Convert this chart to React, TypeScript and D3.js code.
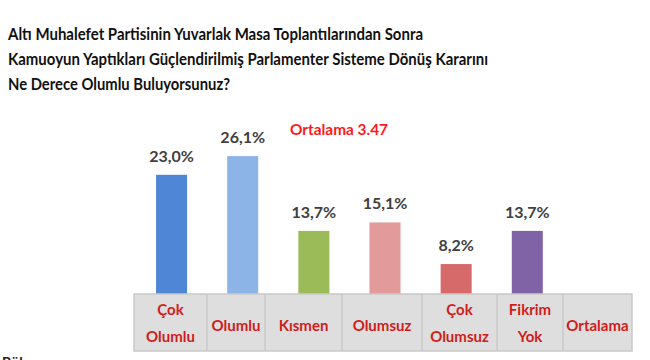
import React from "react";
import * as d3 from "d3";

const categories = ["Çok Olumlu", "Olumlu", "Kısmen", "Olumsuz", "Çok Olumsuz", "Fikrim Yok", "Ortalama"];
const tableLabels: string[][] = [["Çok", "Olumlu"], ["Olumlu"], ["Kısmen"], ["Olumsuz"], ["Çok", "Olumsuz"], ["Fikrim", "Yok"], ["Ortalama"]];
const values: (number | null)[] = [23.0, 26.1, 13.7, 15.1, 8.2, 13.7, null];
const valueLabels = ["23,0%", "26,1%", "13,7%", "15,1%", "8,2%", "13,7%", ""];
const barColors = ["#4f86d6", "#8db4e6", "#9bbb59", "#e29a9b", "#d66a6a", "#8063a6", "#ffffff"];
const titleLines = [
  "Altı Muhalefet Partisinin Yuvarlak Masa Toplantılarından Sonra",
  "Kamuoyun Yaptıkları Güçlendirilmiş Parlamenter Sisteme Dönüş Kararını",
  "Ne Derece Olumlu Buluyorsunuz?",
];
const averageText = "Ortalama 3.47";
const footerText = "Bölge";

// layout
const W = 650, H = 360;
const titleWidths = [415, 480, 222];
const colWeights = [73, 58, 77, 80, 75, 66, 69];
const tableX0 = 134, tableX1 = 632, tableY0 = 294, tableY1 = 351;

export default function App() {
  const x = d3.scaleBand<string>().domain(categories).range([136, 634]).paddingInner(0.564).paddingOuter(0.282);
  const y = d3.scaleLinear().domain([0, 30]).range([313.5, 132.6]);

  const cum = d3.cumsum(colWeights);
  const colX = d3.scaleLinear().domain([0, cum[cum.length - 1]]).range([tableX0, tableX1]);
  const edges = [0, ...Array.from(cum)].map((c) => colX(c));

  const font = "Lato, 'Open Sans', sans-serif";

  return (
    <svg width={W} height={H} style={{ position: "absolute", left: 0, top: 0, background: "#fff" }} fontFamily={font}>
      <rect width={W} height={H} fill="#fff" />
      {titleLines.map((t, i) => (
        <text key={i} x={8} y={40 + i * 25} fontSize={17} fontWeight={700} fill="#111" textLength={titleWidths[i]} lengthAdjust="spacingAndGlyphs">
          {t}
        </text>
      ))}
      <text x={290} y={135} fontSize={16} fontWeight={700} fill="#ff1a1a" textLength={98} lengthAdjust="spacingAndGlyphs">
        {averageText}
      </text>
      {categories.map((c, i) => {
        const v = values[i];
        if (v == null) return null;
        const bx = x(c)!;
        return (
          <g key={c}>
            <rect x={bx} y={y(v)} width={x.bandwidth()} height={y(0) - y(v)} fill={barColors[i]} />
            <text x={bx + x.bandwidth() / 2} y={y(v) - 13} textAnchor="middle" fontSize={16} fontWeight={700} fill="#404040">
              {valueLabels[i]}
            </text>
          </g>
        );
      })}
      <rect x={tableX0} y={tableY0} width={tableX1 - tableX0} height={tableY1 - tableY0} fill="#dedede" stroke="#c9c9c9" strokeWidth={1.5} />
      {edges.slice(1, -1).map((ex, i) => (
        <line key={i} x1={ex} x2={ex} y1={tableY0} y2={tableY1} stroke="#c9c9c9" strokeWidth={1.5} />
      ))}
      {tableLabels.map((lines, i) => {
        const cx = (edges[i] + edges[i + 1]) / 2;
        const ys = lines.length === 1 ? [331] : [315, 342];
        return lines.map((l, j) => (
          <text key={i + "-" + j} x={cx} y={ys[j]} textAnchor="middle" fontSize={15} fontWeight={700} fill="#d01c1c">
            {l}
          </text>
        ));
      })}
      <text x={2} y={367} fontSize={14} fontWeight={700} fill="#222">
        {footerText}
      </text>
    </svg>
  );
}
